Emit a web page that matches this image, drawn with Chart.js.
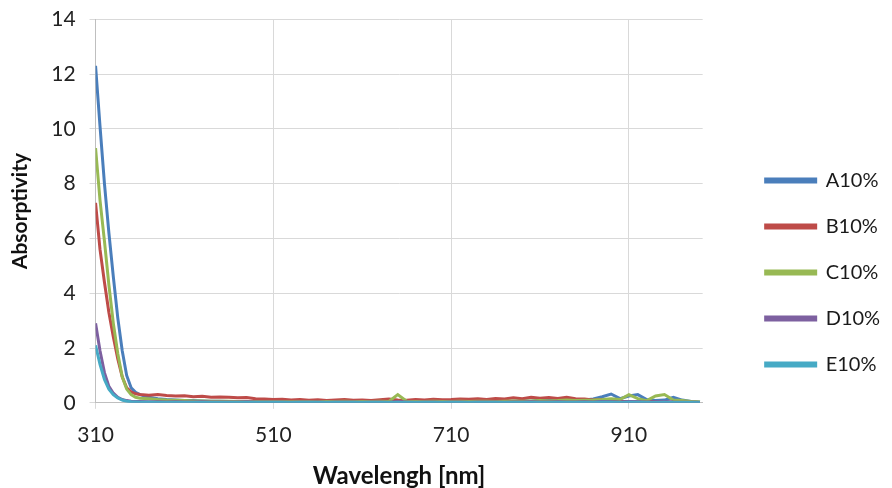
<!DOCTYPE html>
<html>
<head>
<meta charset="utf-8">
<script src="https://cdn.jsdelivr.net/npm/chart.js@4.4.1/dist/chart.umd.min.js"></script>
<style>
  html, body { margin: 0; padding: 0; background: #ffffff; }
  #wrap { width: 892px; height: 488px; }
</style>
</head>
<body>
<div id="wrap"><canvas id="c" width="892" height="488"></canvas></div>
<script>
// Wavelengths (nm)
const wavelengths = [310,315,320,325,330,335,340,345,350,355,360,
  370,380,390,400,410,420,430,440,450,460,470,480,490,
  500,510,520,530,540,550,560,570,580,590,600,610,620,630,640,650,660,670,680,690,700,
  710,720,730,740,750,760,770,780,790,800,810,820,830,840,850,860,870,880,890,900,910,920,930,940,950,960,970,980,990];

const seriesNames = ["A10%", "B10%", "C10%", "D10%", "E10%"];

const seriesA = [12.3,10.1,8.0,6.2,4.6,3.1,1.9,1.0,0.55,0.38,0.3,
  0.2,0.15,0.12,0.1,0.08,0.08,0.07,0.06,0.06,0.05,0.05,0.05,0.05,
  0.05,0.05,0.04,0.05,0.04,0.05,0.04,0.04,0.05,0.04,0.05,0.04,0.05,0.04,0.05,0.08,0.05,0.04,0.05,0.04,0.05,
  0.05,0.06,0.05,0.06,0.05,0.06,0.07,0.06,0.08,0.06,0.1,0.08,0.12,0.09,0.08,0.1,0.14,0.22,0.32,0.15,0.25,0.3,0.12,0.08,0.1,0.2,0.1,0.05,0.03];

const seriesB = [7.3,5.6,4.4,3.3,2.4,1.6,0.95,0.55,0.4,0.33,0.3,
  0.28,0.3,0.27,0.25,0.26,0.22,0.24,0.2,0.21,0.2,0.18,0.19,0.15,
  0.14,0.12,0.13,0.1,0.12,0.09,0.11,0.08,0.1,0.12,0.09,0.1,0.08,0.11,0.14,0.1,0.09,0.12,0.1,0.13,0.11,
  0.12,0.14,0.13,0.15,0.12,0.16,0.14,0.18,0.15,0.2,0.17,0.19,0.16,0.2,0.15,0.14,0.1,0.12,0.08,0.06,0.05,0.04,0.06,0.03,0.04,0.02,0.03,0.02,0.01];

const seriesC = [9.3,7.4,5.9,4.3,2.9,1.8,0.95,0.5,0.3,0.2,0.17,
  0.15,0.12,0.1,0.09,0.08,0.07,0.07,0.06,0.06,0.06,0.05,0.05,0.05,
  0.05,0.05,0.05,0.04,0.05,0.05,0.04,0.05,0.05,0.06,0.05,0.05,0.05,0.06,0.05,0.3,0.06,0.05,0.05,0.06,0.05,
  0.05,0.06,0.05,0.06,0.06,0.05,0.06,0.07,0.06,0.07,0.08,0.07,0.08,0.1,0.08,0.09,0.1,0.12,0.15,0.12,0.3,0.15,0.08,0.25,0.3,0.1,0.08,0.05,0.03];

const seriesD = [2.9,1.9,1.1,0.6,0.35,0.2,0.12,0.08,0.06,0.05,0.05,
  0.04,0.04,0.03,0.04,0.03,0.03,0.04,0.03,0.03,0.03,0.03,0.04,0.03,
  0.03,0.03,0.03,0.02,0.03,0.03,0.03,0.02,0.03,0.03,0.03,0.02,0.03,0.03,0.02,0.04,0.03,0.02,0.03,0.03,0.02,
  0.03,0.03,0.02,0.03,0.03,0.03,0.02,0.03,0.03,0.04,0.03,0.03,0.04,0.03,0.03,0.04,0.03,0.05,0.04,0.03,0.05,0.04,0.03,0.04,0.05,0.03,0.02,0.02,0.01];

const seriesE = [2.1,1.4,0.85,0.5,0.3,0.18,0.1,0.06,0.04,0.03,0.02,
  0.02,0.01,0.01,0.01,0.01,0.01,0.01,0.01,0.01,0.01,0.01,0.01,0.01,
  0.01,0.01,0.01,0.01,0.01,0.01,0.01,0.01,0.01,0.01,0.01,0.01,0.01,0.01,0.01,0.02,0.01,0.01,0.01,0.01,0.01,
  0.01,0.01,0.01,0.01,0.01,0.01,0.01,0.01,0.01,0.01,0.01,0.01,0.01,0.01,0.01,0.01,0.01,0.02,0.02,0.01,0.02,0.02,0.01,0.01,0.02,0.01,0.01,0.01,0.0];

const xTickValues = [310, 510, 710, 910];
const yTickValues = [0, 2, 4, 6, 8, 10, 12, 14];

const colors = ["#4A7EBB", "#BE4B48", "#98B954", "#7D60A0", "#46AAC5"];
const allSeries = [seriesA, seriesB, seriesC, seriesD, seriesE];

const datasets = allSeries.map((vals, i) => ({
  label: seriesNames[i],
  data: wavelengths.map((w, j) => ({ x: w, y: vals[j] })),
  borderColor: colors[i],
  backgroundColor: colors[i],
  borderWidth: 3,
  pointRadius: 0,
  tension: 0,
  fill: false,
  order: allSeries.length - i
}));

const fam = "Lato, 'Open Sans', sans-serif";

new Chart(document.getElementById("c"), {
  type: "line",
  data: { datasets },
  options: {
    responsive: false,
    animation: false,
    layout: { padding: { top: 0, left: 8, right: 6, bottom: 0 } },
    plugins: {
      tooltip: { enabled: false },
      legend: {
        position: "right",
        align: "center",
        title: { display: true, text: " ", padding: { top: 19, bottom: 19 }, font: { size: 16 } },
        labels: {
          boxWidth: 50,
          boxHeight: 3,
          padding: 26,
          color: "#1a1a1a",
          font: { family: fam, size: 20 },
          sort: (a, b) => a.datasetIndex - b.datasetIndex
        }
      }
    },
    scales: {
      x: {
        type: "linear",
        min: 310,
        max: 993,
        afterBuildTicks: (axis) => { axis.ticks = xTickValues.map(v => ({ value: v })); },
        grid: { color: "#d9d9d9", lineWidth: 1, tickLength: 6, drawTicks: true },
        border: { color: "#bfbfbf" },
        ticks: { color: "#222", font: { family: fam, size: 21 }, padding: 14, maxRotation: 0 },
        title: { display: true, text: "Wavelengh [nm]", color: "#111",
                 font: { family: fam, size: 24, weight: "bold", lineHeight: 1.0 }, padding: { top: 2, bottom: 0 } }
      },
      y: {
        type: "linear",
        min: 0,
        max: 14,
        afterBuildTicks: (axis) => { axis.ticks = yTickValues.map(v => ({ value: v })); },
        grid: { color: "#d9d9d9", lineWidth: 1, tickLength: 6 },
        border: { color: "#bfbfbf" },
        ticks: { color: "#222", font: { family: fam, size: 21, lineHeight: 0.5 }, padding: 14 },
        title: { display: true, text: "Absorptivity", color: "#111",
                 font: { family: fam, size: 21, weight: "bold" }, padding: { top: 0, bottom: 4 } }
      },
      spacer: {
        type: "linear",
        position: "right",
        display: true,
        grid: { display: false, drawTicks: false },
        border: { display: false },
        ticks: { display: false },
        afterFit: (s) => { s.width = 37; }
      }
    }
  }
});
</script>
</body>
</html>
